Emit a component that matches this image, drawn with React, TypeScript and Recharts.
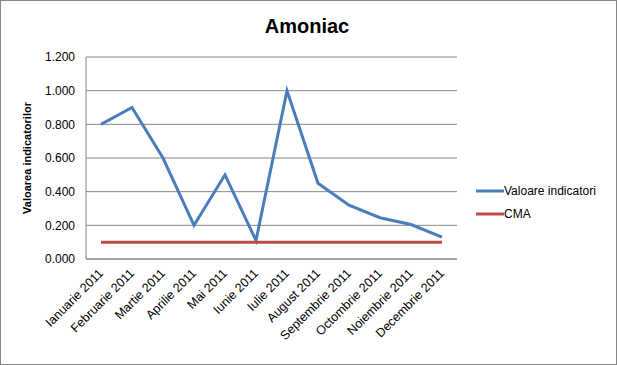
import { CartesianGrid, Line, LineChart, XAxis, YAxis } from 'recharts';

const months = [
  'Ianuarie 2011',
  'Februarie 2011',
  'Martie 2011',
  'Aprilie 2011',
  'Mai 2011',
  'Iunie 2011',
  'Iulie 2011',
  'August 2011',
  'Septembrie 2011',
  'Octombrie 2011',
  'Noiembrie 2011',
  'Decembrie 2011',
];
const indicator = [0.8, 0.9, 0.6, 0.2, 0.5, 0.11, 1.0, 0.45, 0.32, 0.245, 0.205, 0.13];
const cma = [0.1, 0.1, 0.1, 0.1, 0.1, 0.1, 0.1, 0.1, 0.1, 0.1, 0.1, 0.1];
const yTicks = [0, 0.2, 0.4, 0.6, 0.8, 1.0, 1.2];

const blue = '#4a7ebb';
const red = '#be4b48';
const grey = '#868686';
const font = '"Liberation Sans", Arial, sans-serif';

const series = [
  { key: 'indicator', name: 'Valoare indicatori', color: blue },
  { key: 'cma', name: 'CMA', color: red },
];

const data = months.map((m, i) => ({ month: m, indicator: indicator[i], cma: cma[i] }));

// rotated month labels, text ends just right of the category centre
function MonthTick(props: any) {
  const { x, y, payload } = props;
  return (
    <text
      x={0}
      y={0}
      transform={`translate(${x + 3},${y + 15}) rotate(-45)`}
      textAnchor="end"
      fontSize={12.5}
      fontFamily={font}
      fill="#000"
    >
      {payload.value}
    </text>
  );
}

function YLabel(props: any) {
  const vb = props.viewBox || { x: 0, y: 0, height: 0 };
  const cx = vb.x + 11;
  const cy = vb.y + vb.height / 2;
  return (
    <text
      x={cx}
      y={cy}
      transform={`rotate(-90 ${cx} ${cy})`}
      textAnchor="middle"
      fontSize={11}
      fontWeight="bold"
      fontFamily={font}
      fill="#000"
    >
      Valoarea indicatorilor
    </text>
  );
}

export default function App() {
  return (
    <div style={{ position: 'absolute', left: 0, top: 0, width: 617, height: 365, background: '#fff' }}>
      <div
        style={{
          position: 'absolute',
          left: 0,
          top: 16,
          width: 614,
          textAlign: 'center',
          fontFamily: font,
          fontWeight: 'bold',
          fontSize: 20,
          lineHeight: '20px',
          color: '#000',
        }}
      >
        Amoniac
      </div>
      <LineChart
        width={617}
        height={365}
        data={data}
        margin={{ top: 57, right: 160, bottom: 16, left: 20 }}
      >
        <CartesianGrid vertical={false} stroke={grey} />
        <XAxis
          dataKey="month"
          interval={0}
          height={90}
          padding={{ left: 15, right: 15 }}
          axisLine={{ stroke: grey }}
          tickLine={false}
          tickSize={0}
          tickMargin={0}
          tick={<MonthTick />}
        />
        <YAxis
          width={66}
          domain={[0, 1.2]}
          ticks={yTicks}
          interval={0}
          axisLine={{ stroke: grey }}
          tickLine={false}
          tickSize={0}
          tickMargin={11}
          tickFormatter={(v: number) => v.toFixed(3)}
          tick={{ fill: '#000', fontSize: 12, fontFamily: font }}
          label={<YLabel />}
        />
        {series.map((s) => (
          <Line
            key={s.key}
            type="linear"
            dataKey={s.key}
            name={s.name}
            stroke={s.color}
            strokeWidth={3}
            dot={false}
            isAnimationActive={false}
          />
        ))}
      </LineChart>
      <div
        style={{
          position: 'absolute',
          left: 476,
          top: 179,
          fontFamily: font,
          fontSize: 12,
          color: '#000',
        }}
      >
        {series.map((s) => (
          <div key={s.key} style={{ display: 'flex', alignItems: 'center', height: 23 }}>
            <svg width={28} height={4} style={{ display: 'block' }}>
              <line x1={0} y1={2} x2={28} y2={2} stroke={s.color} strokeWidth={3} />
            </svg>
            <span>{s.name}</span>
          </div>
        ))}
      </div>
      <div
        style={{
          position: 'absolute',
          left: 0,
          top: 0,
          width: 617,
          height: 365,
          boxSizing: 'border-box',
          border: `1px solid ${grey}`,
          pointerEvents: 'none',
        }}
      />
    </div>
  );
}
